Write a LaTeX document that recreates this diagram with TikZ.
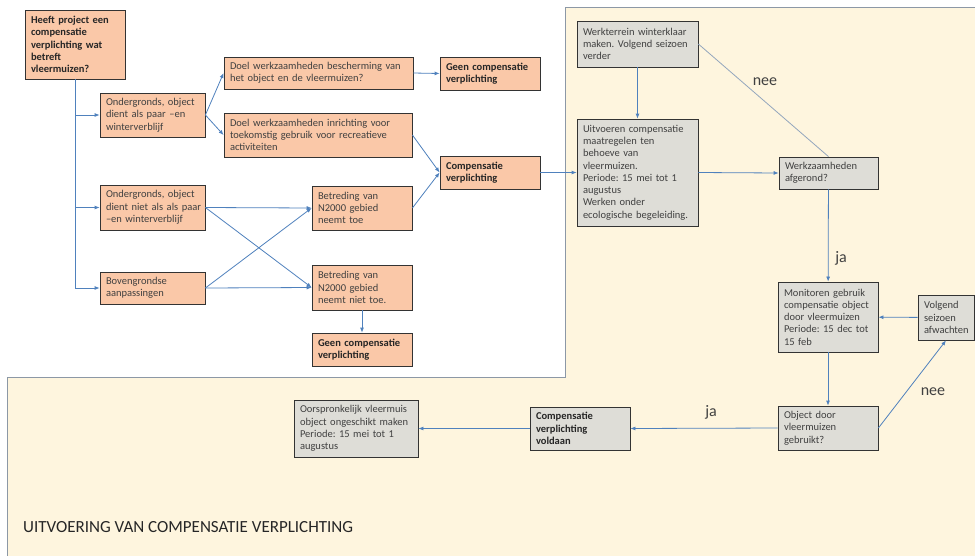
\documentclass[tikz,border=0pt]{standalone}
\usepackage{fontspec}
\setmainfont{Carlito}
\usetikzlibrary{arrows.meta}
\definecolor{oranje}{RGB}{250,200,168}
\definecolor{grijs}{RGB}{222,221,215}
\definecolor{zand}{RGB}{254,245,222}
\definecolor{pijlblauw}{RGB}{79,129,189}
\definecolor{rand}{RGB}{140,152,166}
\definecolor{tekst}{RGB}{64,64,64}
\frenchspacing
\begin{document}
\begin{tikzpicture}[x=1pt,y=-1pt,
  kader/.style={draw=black!80,line width=0.8pt,inner xsep=6pt,inner ysep=2pt,align=left,text=tekst,font=\fontsize{10.5}{12.3}\selectfont},
  oranjekader/.style={kader,fill=oranje},
  grijskader/.style={kader,fill=grijs},
  vet/.style={font=\fontsize{10.5}{12.3}\selectfont\bfseries,text=black!85},
  pijl/.style={draw=pijlblauw,line width=0.8pt,-{Latex[length=5pt,width=4pt]}},
  lijn/.style={draw=pijlblauw,line width=0.8pt},
  antw/.style={font=\fontsize{16}{18}\selectfont,text=tekst,inner sep=0pt}]
\pgfmathsetmacro{\links}{7}
\pgfmathsetmacro{\midden}{565}
\pgfmathsetmacro{\boven}{7}
\pgfmathsetmacro{\knik}{377}
  \useasboundingbox (0,0) rectangle (975,555);
  \fill[white] (0,0) rectangle (975,555);
  \filldraw[fill=zand,draw=rand,line width=1pt] (\midden,\boven) -- (985,\boven) -- (985,565) -- (\links,565) -- (\links,\knik) -- (\midden,\knik) -- cycle;
  % linkerdeel: vraag en keuzes
  \node[oranjekader,vet,text width=88pt,minimum height=69pt] (vraag) at (75,44.5) {Heeft project een\\compensatie\\verplichting wat\\betreft\\vleermuizen?};
  \node[oranjekader,text width=93pt,minimum height=44pt] (ondA) at (152.5,115) {Ondergronds, object\\dient als paar –en\\winterverblijf};
  \node[oranjekader,text width=177pt,minimum height=32pt] (doelA) at (318.5,73) {Doel werkzaamheden bescherming van\\het object en de vleermuizen?};
  \node[oranjekader,vet,text width=88pt,minimum height=33pt] (geenA) at (490,73.5) {Geen compensatie\\verplichting};
  \node[oranjekader,text width=176pt,minimum height=44pt] (doelB) at (318,135) {Doel werkzaamheden inrichting voor\\toekomstig gebruik voor recreatieve\\activiteiten};
  \node[oranjekader,vet,text width=88pt,minimum height=33pt] (comp) at (490,172.5) {Compensatie\\verplichting};
  \node[oranjekader,inner xsep=3pt,text width=99pt,minimum height=45pt] (ondB) at (152.5,207.5) {\hspace{3pt}Ondergronds, object\\\hspace{3pt}dient niet als als paar\\\hspace{3pt}–en winterverblijf};
  \node[oranjekader,text width=88pt,minimum height=44pt] (betrA) at (362,208) {Betreding van\\N2000 gebied\\neemt toe};
  \node[oranjekader,text width=93pt,minimum height=32pt] (bovengr) at (152.5,288) {Bovengrondse\\aanpassingen};
  \node[oranjekader,text width=88pt,minimum height=45pt] (betrB) at (362,287.5) {Betreding van\\N2000 gebied\\neemt niet toe.};
  \node[oranjekader,vet,text width=88pt,minimum height=33pt] (geenB) at (362,349.5) {Geen compensatie\\verplichting};
  % rechterdeel: uitvoering
  \node[grijskader,text width=109pt,minimum height=46pt] (winter) at (637.5,44) {Werkterrein winterklaar\\maken. Volgend seizoen\\verder};
  \node[grijskader,text width=109pt,minimum height=107pt] (uitv) at (637.5,172.5) {Uitvoeren compensatie\\maatregelen ten\\behoeve van\\vleermuizen.\\Periode: 15 mei tot 1\\augustus\\Werken onder\\ecologische begeleiding.};
  \node[grijskader,text width=87pt,minimum height=32pt] (afger) at (828.5,173) {Werkzaamheden\\afgerond?};
  \node[grijskader,text width=88pt,minimum height=70pt] (monit) at (828,317) {Monitoren gebruik\\compensatie object\\door vleermuizen\\Periode: 15 dec tot\\15 feb};
  \node[grijskader,text width=44pt,minimum height=45pt] (volg) at (946,317.5) {Volgend\\seizoen\\afwachten};
  \node[grijskader,text width=88pt,minimum height=44pt] (obj) at (828,428) {Object door\\vleermuizen\\gebruikt?};
  \node[grijskader,vet,text width=88pt,minimum height=43pt] (voldaan) at (580,428.5) {Compensatie\\verplichting\\voldaan};
  \node[grijskader,text width=112pt,minimum height=57pt] (oorspr) at (356,428.5) {Oorspronkelijk vleermuis\\object ongeschikt maken\\Periode: 15 mei tot 1\\augustus};
  \node[anchor=base west,inner sep=0pt,font=\fontsize{17}{20}\selectfont,text=black!85] (titel) at (23,532) {UITVOERING VAN COMPENSATIE VERPLICHTING};
  \node[antw] (neeA) at (765,82) {nee};
  \node[antw] (jaA) at (841,258) {ja};
  \node[antw] (neeB) at (933,392) {nee};
  \node[antw] (jaB) at (711,412) {ja};
  % verbindingen
  \draw[lijn] (vraag.south) -- (vraag.south |- bovengr.west);
  \foreach \n in {ondA,ondB,bovengr} \draw[pijl] (vraag.south |- \n.west) -- (\n.west);
  \foreach \n in {doelA,doelB} \draw[pijl] (ondA.east) -- (\n.west);
  \draw[pijl] (doelA.east) -- (geenA.west);
  \foreach \n in {doelB,betrA} \draw[pijl] (\n.east) -- (comp.west);
  \foreach \a in {ondB,bovengr} \foreach \b in {betrA,betrB} \draw[pijl] (\a.east) -- (\b.west);
  \draw[pijl] (betrB) -- (geenB);
  \draw[pijl] (comp.east) -- (uitv.west);
  \draw[pijl] (winter) -- (uitv);
  \draw[pijl] (uitv.east) -- (afger.west);
  \draw[lijn,draw=pijlblauw!55!gray!70] (afger.north) -- (winter.east);
  \draw[pijl] (afger) -- (monit);
  \draw[pijl] (monit) -- (obj);
  \draw[pijl] (volg) -- (monit);
  \draw[pijl] (obj.east) -- (volg.south);
  \draw[pijl] (obj.west) -- (voldaan.east);
  \draw[pijl] (voldaan.west) -- (oorspr.east);
\end{tikzpicture}
\end{document}
